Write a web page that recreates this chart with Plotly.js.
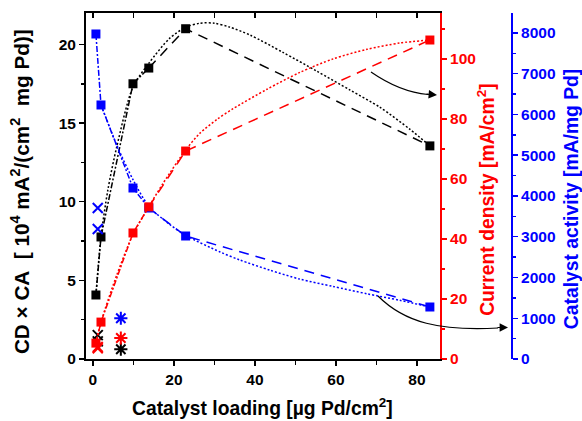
<!DOCTYPE html>
<html><head><meta charset="utf-8">
<script src="https://cdn.plot.ly/plotly-3.0.1.min.js"></script>
<style>html,body{margin:0;padding:0;background:#fff}#chart{width:582px;height:421px}</style>
</head><body><div id="chart"></div>
<script>
// Main series (Pd loading in ug Pd/cm2)
const loading        = [0.75, 2.0, 9.9, 13.8, 22.9, 83.2];
const cdTimesCa      = [4.07, 7.76, 17.5, 18.5, 21.0, 13.55];     // 10^4 mA^2/(cm^2 mg Pd)
const currentDensity = [5.3, 12.3, 42.0, 50.7, 69.3, 106.3];      // mA/cm^2
const catalystAct    = [7975, 6233, 4196, 3705, 3018, 1276];      // mA/mg Pd

// Reference catalysts (crosses)
const crossLoading = [1.2, 1.2];
const crossCDCA    = [1.52, 1.12];
const crossCD      = [4.0, 3.6];
const crossCA      = [3705, 3190];

// Reference catalyst (asterisks)
const starLoading = [6.9];
const starCDCA    = [0.62];
const starCD      = [7.0];
const starCA      = [1000];

// Dotted trend curves
const blackFitX = [0.75, 2.0, 3.7, 5.9, 9.9, 13.8, 19, 23, 26.4, 30, 33.8, 38.8, 46.9, 55.3, 63.5, 70.9, 78.3, 83.2];
const blackFitY = [4.07, 7.76, 10.75, 13.5, 17.3, 18.8, 20.4, 21.1, 21.35, 21.35, 21.1, 20.6, 19.5, 18.3, 17.1, 16.0, 14.6, 13.55];
const redFitX   = [0.75, 2.0, 5.9, 9.9, 13.8, 17.3, 23, 26.4, 30.6, 34.6, 43, 51.1, 59.3, 67.7, 75.8, 83.2];
const redFitY   = [5.3, 12.3, 28, 41.5, 50.7, 58.5, 69.8, 75.2, 79.8, 83.4, 89.9, 95.5, 100, 103.2, 105.3, 106.3];
const blueFitX  = [2.0, 5.9, 9.9, 13.8, 19, 23, 31.4, 36.3, 43.7, 51.1, 59.3, 67.7, 75.8, 83.2];
const blueFitY  = [6233, 5250, 4400, 3750, 3300, 3030, 2626, 2429, 2180, 1960, 1780, 1600, 1440, 1276];

const FONT = '"Liberation Sans", Arial, sans-serif';
const BLACK = '#000000', RED = '#ff0000', BLUE = '#0000ff';
const DOT = '2px,2px', DASH = '10px,7px', DASHDOT = '6px,2px,2px,2px';

function line(x, y, color, dash, yaxis, shape) {
  return {type:'scatter', mode:'lines', x:x, y:y, yaxis:yaxis, hoverinfo:'skip',
    line:{color:color, width:1.5, dash:dash, shape:shape||'linear', smoothing:0.8}};
}
function pts(x, y, color, symbol, yaxis, size) {
  const open = symbol !== 'square';
  return {type:'scatter', mode:'markers', x:x, y:y, yaxis:yaxis, cliponaxis:false,
    marker:{symbol:symbol, size:size, color:color, line:{color:color, width: open ? 2 : 0}}};
}

const traces = [
  // black (left axis)
  line(loading.slice(0,4), cdTimesCa.slice(0,4), BLACK, DASHDOT, 'y'),
  line(loading.slice(3), cdTimesCa.slice(3), BLACK, DASH, 'y'),
  line(blackFitX, blackFitY, BLACK, DOT, 'y', 'spline'),
  pts(crossLoading, crossCDCA, BLACK, 'x-thin-open', 'y', 10),
  pts(starLoading, starCDCA, BLACK, 'asterisk-open', 'y', 11),
  pts(loading, cdTimesCa, BLACK, 'square', 'y', 9),
  // blue (catalyst activity axis)
  line(loading.slice(0,4), catalystAct.slice(0,4), BLUE, DASHDOT, 'y2'),
  line(loading.slice(3), catalystAct.slice(3), BLUE, DASH, 'y2'),
  line(blueFitX, blueFitY, BLUE, DOT, 'y2', 'spline'),
  pts(crossLoading, crossCA, BLUE, 'x-thin-open', 'y2', 10),
  pts(starLoading, starCA, BLUE, 'asterisk-open', 'y2', 11),
  pts(loading, catalystAct, BLUE, 'square', 'y2', 9),
  // red (current density axis)
  line(loading.slice(0,4), currentDensity.slice(0,4), RED, DASHDOT, 'y3'),
  line(loading.slice(3), currentDensity.slice(3), RED, DASH, 'y3'),
  line(redFitX, redFitY, RED, DOT, 'y3', 'spline'),
  pts(crossLoading, crossCD, RED, 'x-thin-open', 'y3', 10),
  pts(starLoading, starCD, RED, 'asterisk-open', 'y3', 11),
  pts(loading, currentDensity, RED, 'square', 'y3', 9),
  // carrier for the top frame axis
  {type:'scatter', mode:'lines', x:[], y:[], xaxis:'x2', yaxis:'y', hoverinfo:'skip'}
];

const tickFont = c => ({family:FONT, size:15.5, color:c, weight:'bold'});
const XR = [-1.7, 85.7];
const XDOM = [0, 0.831];
const TS = 19.3;

const layout = {
  width:582, height:421,
  margin:{l:86, r:70, t:13, b:62, pad:0},
  paper_bgcolor:'#ffffff', plot_bgcolor:'rgba(0,0,0,0)',
  showlegend:false,
  font:{family:FONT, size:14, color:BLACK},
  xaxis:{domain:XDOM, range:XR, anchor:'y', showline:true, linecolor:BLACK, linewidth:2,
    ticks:'outside', ticklen:5, tickwidth:1.5, tickcolor:BLACK, tick0:0, dtick:20,
    minor:{dtick:10, ticks:'outside', ticklen:4, tickwidth:1.5, tickcolor:BLACK, showgrid:false},
    showgrid:false, zeroline:false, tickfont:tickFont(BLACK)},
  xaxis2:{domain:XDOM, range:XR, overlaying:'x', side:'top', anchor:'y', showline:true, linecolor:BLACK, linewidth:2,
    ticks:'inside', ticklen:5, tickwidth:1.5, tickcolor:BLACK, tick0:0, dtick:10,
    showticklabels:false, showgrid:false, zeroline:false},
  yaxis:{range:[0, 22], showline:true, linecolor:BLACK, linewidth:2,
    ticks:'outside', ticklen:5, tickwidth:1.5, tickcolor:BLACK, tick0:0, dtick:5,
    minor:{dtick:2.5, ticks:'outside', ticklen:3, tickwidth:1.5, tickcolor:BLACK, showgrid:false},
    showgrid:false, zeroline:false, tickfont:tickFont(BLACK)},
  yaxis2:{range:[0, 8490], overlaying:'y', side:'right', anchor:'free', position:1,
    showline:true, linecolor:BLUE, linewidth:2,
    ticks:'outside', ticklen:5, tickwidth:1.5, tickcolor:BLUE, tick0:0, dtick:1000,
    minor:{dtick:500, ticks:'outside', ticklen:3, tickwidth:1.5, tickcolor:BLUE, showgrid:false},
    showgrid:false, zeroline:false, tickfont:tickFont(BLUE)},
  yaxis3:{range:[0, 115.3], overlaying:'y', side:'right', anchor:'x',
    showline:true, linecolor:RED, linewidth:2,
    ticks:'outside', ticklen:5, tickwidth:1.5, tickcolor:RED, tick0:0, dtick:20,
    minor:{dtick:10, ticks:'outside', ticklen:3, tickwidth:1.5, tickcolor:RED, showgrid:false},
    showgrid:false, zeroline:false, tickfont:tickFont(RED)},
  annotations:[
    {xref:'paper', yref:'paper', x:0.414, y:-0.139, xanchor:'center', yanchor:'middle', showarrow:false,
      text:'Catalyst loading [µg Pd/cm<sup>2</sup>]', font:{family:FONT, size:TS, color:BLACK, weight:'bold'}},
    {xref:'paper', yref:'paper', x:-0.156, y:0.484, xanchor:'center', yanchor:'middle', showarrow:false, textangle:-90,
      text:'CD × CA\u00a0 [ 10<sup>4</sup> mA<sup>2</sup>/(cm<sup>2</sup>\u00a0 mg Pd)]', font:{family:FONT, size:20.7, color:BLACK, weight:'bold'}},
    {xref:'paper', yref:'paper', x:0.939, y:0.46, xanchor:'center', yanchor:'middle', showarrow:false, textangle:-90,
      text:'Current density [mA/cm<sup>2</sup>]', font:{family:FONT, size:TS, color:RED, weight:'bold'}},
    {xref:'paper', yref:'paper', x:1.1385, y:0.462, xanchor:'center', yanchor:'middle', showarrow:false, textangle:-90,
      text:'Catalyst activity [mA/mg Pd]', font:{family:FONT, size:TS, color:BLUE, weight:'bold'}},
    {xref:'paper', yref:'paper', x:0.824, y:0.763, text:'', showarrow:true, arrowhead:2, arrowsize:1.4, arrowwidth:1.2,
      arrowcolor:BLACK, ax:-12, ay:-1, standoff:0},
    {xref:'paper', yref:'paper', x:0.9906, y:0.091, text:'', showarrow:true, arrowhead:2, arrowsize:1.4, arrowwidth:1.2,
      arrowcolor:BLACK, ax:-12, ay:0, standoff:0}
  ],
  shapes:[
    {type:'path', xref:'paper', yref:'paper', path:'M 0.669 0.8295 Q 0.737 0.7717 0.8028 0.7645',
      line:{color:BLACK, width:1.2}},
    {type:'path', xref:'paper', yref:'paper', path:'M 0.6854 0.1821 C 0.7488 0.104 0.831 0.0809 0.9671 0.0896',
      line:{color:BLACK, width:1.2}}
  ]
};

Plotly.newPlot('chart', traces, layout, {staticPlot:true, displayModeBar:false});
</script>
</body></html>
